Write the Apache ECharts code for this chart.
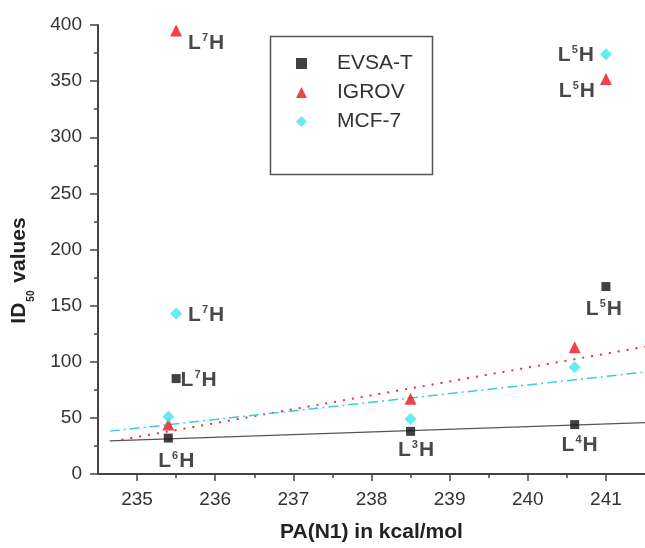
<!DOCTYPE html>
<html><head><meta charset="utf-8">
<script src="https://cdn.jsdelivr.net/npm/echarts@6/dist/echarts.min.js"></script>
<style>html,body{margin:0;padding:0;background:#fff}#c{width:645px;height:548px}</style>
</head><body><div id="c"></div>
<script>
// ---- data ----
const compounds = ['L6H', 'L7H', 'L3H', 'L4H', 'L5H'];
const paN1 = [235.4, 235.5, 238.5, 240.6, 241.0];
const evsaT = [32, 85, 38, 44, 167];
const igrov = [44, 395, 67, 113, 352];
const mcf7 = [51, 143, 49, 95, 374];
const evsaLabelled = ['L6H', 'L7H', 'L3H', 'L4H', 'L5H'];
const igrovLabelled = ['L7H', 'L5H'];
const mcfLabelled = ['L7H', 'L5H'];
const evsaFitX = [234.65, 241.5], evsaFitY = [29.5, 45.7];
const igrovFitX = [234.8, 241.5], igrovFitY = [30.5, 113.4];
const mcfFitX = [234.65, 241.5], mcfFitY = [38.2, 90.8];
const xTicks = [235, 236, 237, 238, 239, 240, 241];
const xMinorTicks = [235.5, 236.5, 237.5, 238.5, 239.5, 240.5];

// ---- styling / placement ----
const labelOffsets = {
  'EVSA-T': {L6H: [8, 23], L7H: [22.5, 2], L3H: [5.5, 19], L4H: [5, 20.5], L5H: [-2, 23]},
  'IGROV': {L7H: [30, 12.5], L5H: [-29, 12.5]},
  'MCF-7': {L7H: [30, 2], L5H: [-30, 1]}
};
const FONT = 'Liberation Sans, Arial, sans-serif';
const richLbl = {
  a: {fontFamily: FONT, fontSize: 21, fontWeight: 'bold', color: '#1a1a1a', lineHeight: 22},
  s: {fontFamily: FONT, fontSize: 11, fontWeight: 'bold', color: '#1a1a1a', lineHeight: 11, verticalAlign: 'top', padding: [0, 1, 0, 1]}
};
function fmt(c) { return '{a|L}{s|' + c.slice(1, -1) + '}{a|H}'; }

function buildData(name, ys, labelled) {
  return paN1.map((x, i) => {
    const c = compounds[i];
    const item = {value: [x, ys[i]]};
    if (labelled.indexOf(c) >= 0) {
      item.label = {show: true, position: 'inside', offset: labelOffsets[name][c],
        formatter: fmt(c), rich: richLbl};
    }
    return item;
  });
}
function fit(xs, ys) { return xs.map((x, i) => [x, ys[i]]); }

const chart = echarts.init(document.getElementById('c'), null, {renderer: 'canvas'});
chart.setOption({
  animation: false,
  backgroundColor: '#fff',
  grid: {left: 98, right: 0, top: 25, bottom: 73.5, containLabel: false},
  legend: {
    data: ['EVSA-T', 'IGROV', 'MCF-7'],
    orient: 'vertical', left: 296, top: 53,
    itemWidth: 11, itemHeight: 11, itemGap: 8,
    textStyle: {fontFamily: FONT, fontSize: 21, color: '#333', padding: [0, 0, 0, 25]},
    padding: 0
  },
  graphic: [{type: 'rect', shape: {x: 270.5, y: 36.5, width: 162, height: 138},
    style: {fill: 'none', stroke: '#555', lineWidth: 1.5}, z: 100}],
  xAxis: [{
    type: 'value', min: 234.5, max: 241.5,
    name: 'PA(N1) in kcal/mol', nameLocation: 'middle', nameGap: 48,
    nameTextStyle: {fontFamily: FONT, fontSize: 21, fontWeight: 'bold', color: '#222'},
    axisLine: {onZero: false, lineStyle: {color: '#444', width: 2}},
    axisTick: {customValues: xTicks, length: 7, lineStyle: {color: '#444', width: 1.5}},
    axisLabel: {customValues: xTicks, fontFamily: FONT, fontSize: 19, color: '#333', margin: 16},
    splitLine: {show: false}
  }, {
    type: 'value', min: 234.5, max: 241.5, position: 'bottom',
    axisLine: {show: false},
    axisTick: {customValues: xMinorTicks, length: 4, lineStyle: {color: '#444', width: 1.5}},
    axisLabel: {show: false}, splitLine: {show: false}
  }],
  yAxis: {
    type: 'value', min: 0, max: 400, interval: 50,
    name: '{m|ID}{sub|50}{m| values}', nameLocation: 'middle', nameGap: 68,
    nameTextStyle: {padding: [0, 42, 0, 0], rich: {
      m: {fontFamily: FONT, fontSize: 21, fontWeight: 'bold', color: '#222', lineHeight: 21, verticalAlign: 'top'},
      sub: {fontFamily: FONT, fontSize: 10, fontWeight: 'bold', color: '#222', lineHeight: 10, verticalAlign: 'top', padding: [17, 2, 0, 1]}
    }},
    axisLine: {show: true, lineStyle: {color: '#444', width: 2}},
    axisTick: {show: true, length: 8, lineStyle: {color: '#444', width: 1.5}},
    minorTick: {show: true, splitNumber: 2, length: 4, lineStyle: {color: '#444', width: 1.5}},
    axisLabel: {fontFamily: FONT, fontSize: 19, color: '#333', margin: 16},
    splitLine: {show: false}
  },
  series: [
    {name: 'EVSA-T fit', type: 'line', data: fit(evsaFitX, evsaFitY), showSymbol: false, silent: true,
      lineStyle: {color: '#555', width: 1.2, type: 'solid'}, z: 1},
    {name: 'IGROV fit', type: 'line', data: fit(igrovFitX, igrovFitY), showSymbol: false, silent: true,
      lineStyle: {color: '#e0303a', width: 2, type: [2, 7]}, z: 1},
    {name: 'MCF-7 fit', type: 'line', data: fit(mcfFitX, mcfFitY), showSymbol: false, silent: true,
      lineStyle: {color: '#3ccfd8', width: 1.5, type: [10, 4, 2, 4]}, z: 1},
    {name: 'EVSA-T', type: 'scatter', data: buildData('EVSA-T', evsaT, evsaLabelled),
      symbol: 'rect', symbolSize: 9, itemStyle: {color: '#111'}, z: 3},
    {name: 'IGROV', type: 'scatter', data: buildData('IGROV', igrov, igrovLabelled),
      symbol: 'triangle', symbolSize: 12, itemStyle: {color: '#e8141c'}, z: 3},
    {name: 'MCF-7', type: 'scatter', data: buildData('MCF-7', mcf7, mcfLabelled),
      symbol: 'diamond', symbolSize: 12, itemStyle: {color: '#3ee6ee'}, z: 4}
  ]
});
</script>
</body></html>
